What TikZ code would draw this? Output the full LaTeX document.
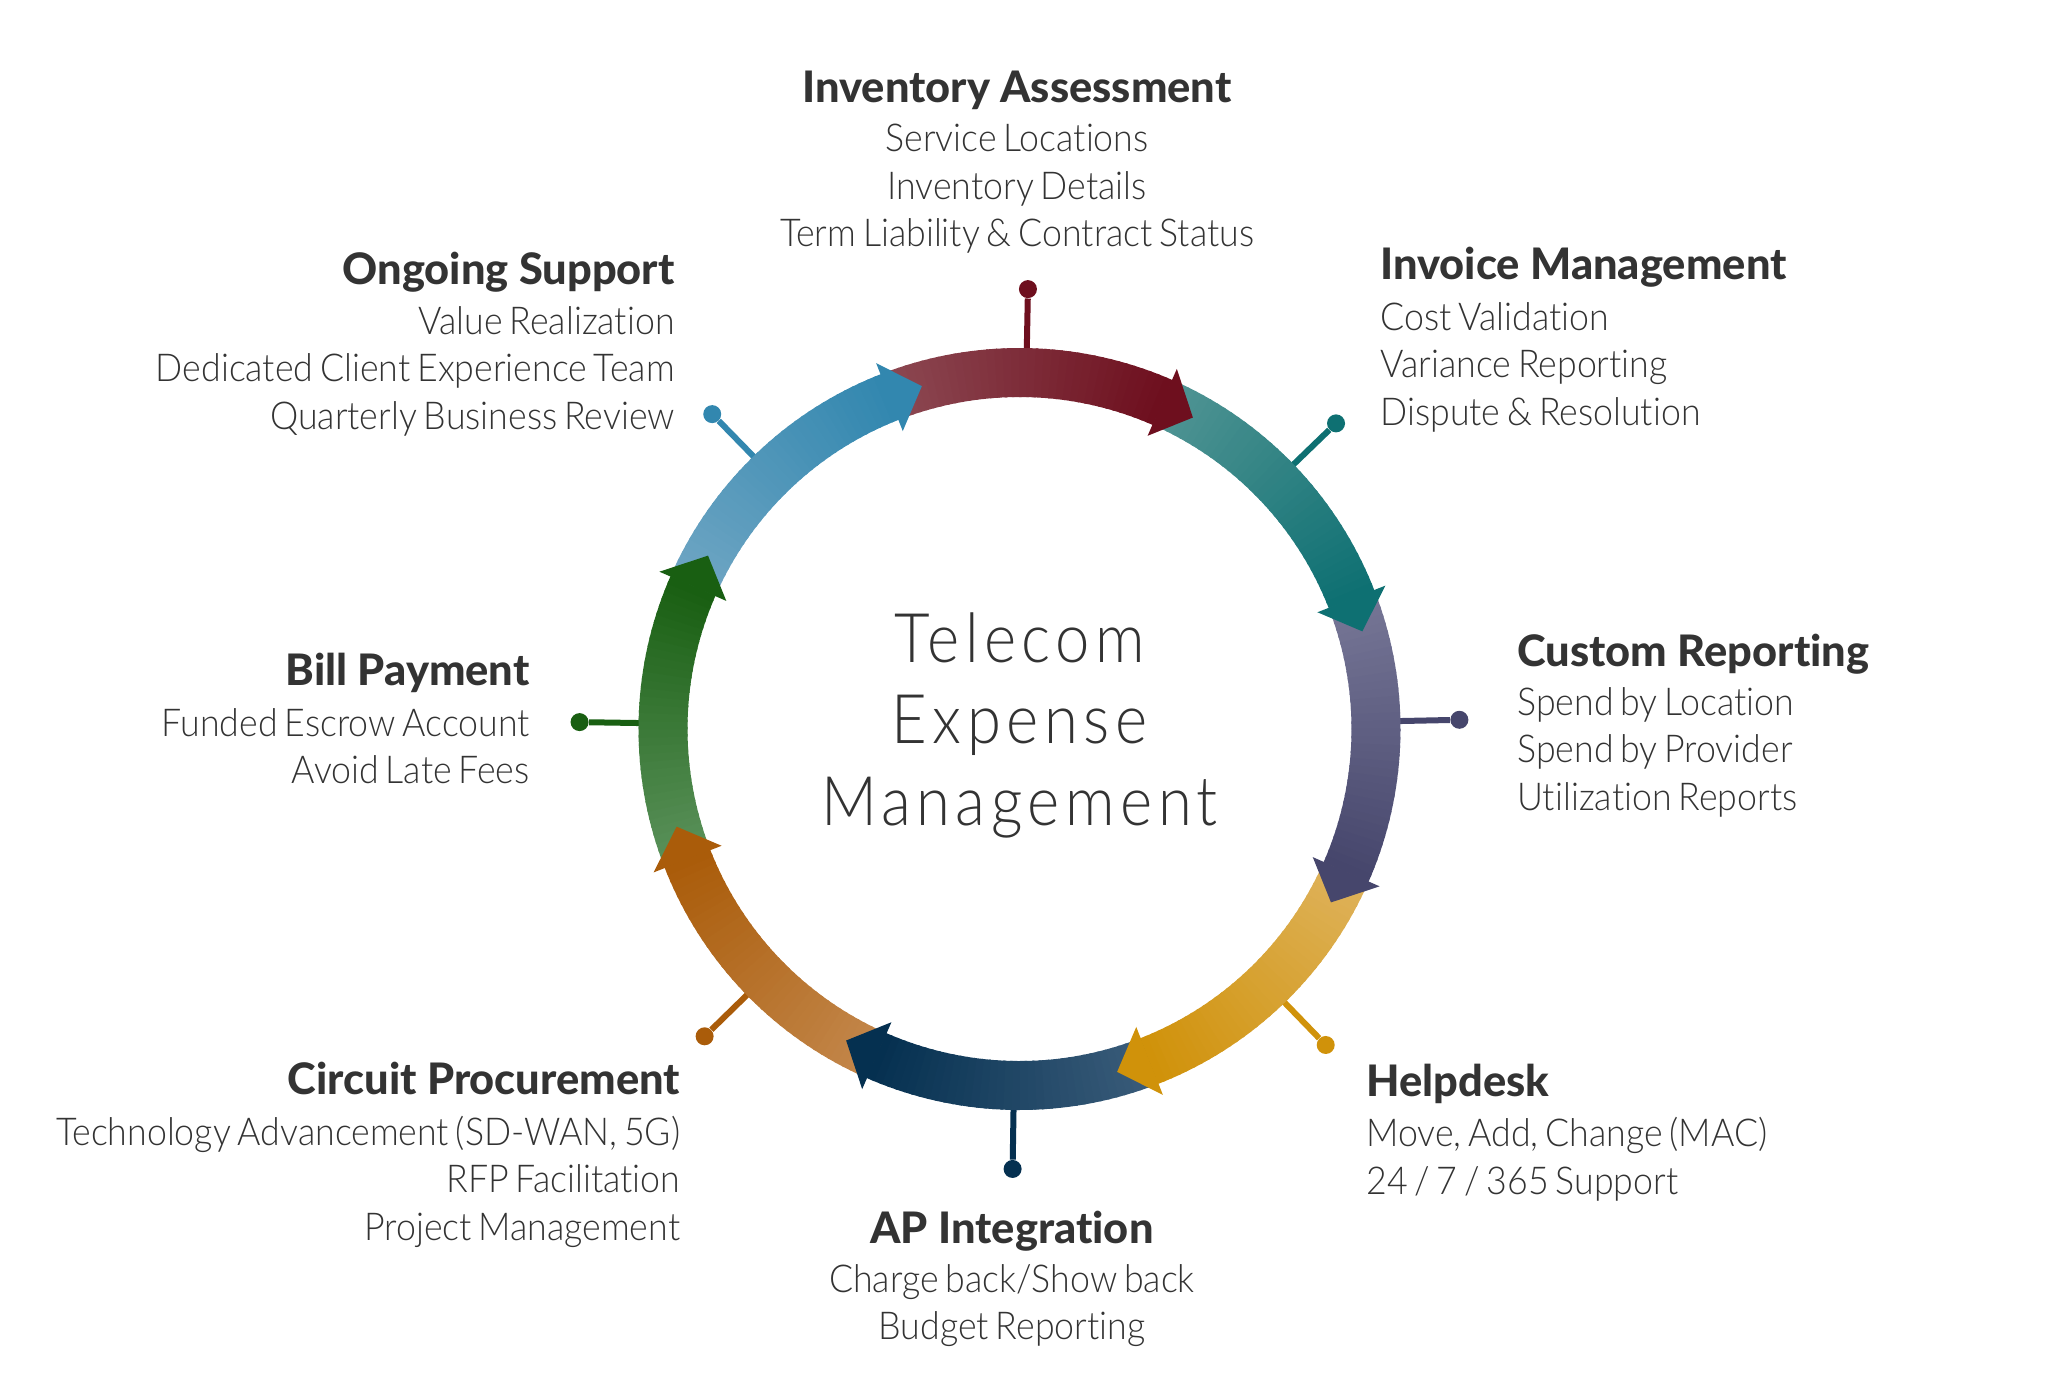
\documentclass[tikz,border=0pt]{standalone}
\usepackage{fontspec}
\setmainfont{Lato}[UprightFont=* Light, BoldFont=* Bold]
\newfontfamily\headfont{Lato}[UprightFont=* Heavy, Ligatures=NoCommon]
\newfontfamily\bodyfont{Lato}[UprightFont=* Light, FakeStretch=0.93, WordSpace=0.7, Ligatures=NoCommon]
\newfontfamily\titlefont{Lato}[UprightFont=* Light, FakeStretch=0.9, LetterSpace=8, Ligatures=NoCommon]
\usetikzlibrary{calc}
\definecolor{txt}{HTML}{333333}
\definecolor{redL}{HTML}{8C4852}\definecolor{redD}{HTML}{6E0F1E}
\definecolor{tealL}{HTML}{509494}\definecolor{tealD}{HTML}{0E7072}
\definecolor{slateL}{HTML}{767696}\definecolor{slateD}{HTML}{46466C}
\definecolor{goldL}{HTML}{DEB25A}\definecolor{goldD}{HTML}{D0920A}
\definecolor{navyL}{HTML}{3A5C7A}\definecolor{navyD}{HTML}{053050}
\definecolor{orangeL}{HTML}{C3874B}\definecolor{orangeD}{HTML}{AA5C0A}
\definecolor{greenL}{HTML}{5A915A}\definecolor{greenD}{HTML}{195F12}
\definecolor{blueL}{HTML}{6EA5C3}\definecolor{blueD}{HTML}{3287AF}
\newcommand\ringarrow[3]{%
  \foreach \i in {0,...,35}{%
    \pgfmathsetmacro\aa{#3+50.4-45*\i/36}%
    \pgfmathsetmacro\ab{#3+50.4-45*(\i+1)/36-0.4}%
    \pgfmathtruncatemacro\pp{round(100*\i/35)}%
    \fill[#2!\pp!#1] (\aa:381) arc[start angle=\aa, end angle=\ab, radius=381]
      -- (\ab:332) arc[start angle=\ab, end angle=\aa, radius=332] -- cycle;
  }%
}
\newcommand\ringhead[2]{%
  \fill[#1] ({#2+5.5}:393) -- (#2:356.5) -- ({#2+5.5}:320) -- cycle;%
}
\tikzset{
  hdtxt/.style={inner sep=0pt, text=txt, font=\headfont\fontsize{21.7pt}{24pt}\selectfont},
  bdtxt/.style={inner sep=0pt, text=txt, font=\bodyfont\fontsize{19.2pt}{23pt}\selectfont},
  cttxt/.style={inner sep=0pt, text=txt, font=\titlefont\fontsize{34.2pt}{40pt}\selectfont},
  pindot/.style={circle, inner sep=0pt, minimum size=9pt},
  pinline/.style={line width=3pt}
}
\begin{document}
\begin{tikzpicture}[x=0.5pt, y=0.5pt]
\useasboundingbox (0,0) rectangle (2048,-1399);
\begin{scope}[shift={(1019.5,-729)}]
  % pins
  \foreach \nm/\ang/\col in {pA/88.9/redD, pB/44.0/tealD, pC/1.2/slateD, pD/-45.9/goldD,
      pE/-90.9/navyD, pF/-135.7/orangeD, pG/179.1/greenD, pH/134.3/blueD}{
    \coordinate (\nm s) at (\ang:380);
    \node[pindot, fill=\col] (\nm) at (\ang:440) {};
    \draw[pinline, \col] (\nm s) -- (\nm);
  }
  % ring bodies
  \ringarrow{redL}{redD}{60.9}
  \ringarrow{tealL}{tealD}{15.9}
  \ringarrow{slateL}{slateD}{-29.1}
  \ringarrow{goldL}{goldD}{-74.1}
  \ringarrow{navyL}{navyD}{-119.1}
  \ringarrow{orangeL}{orangeD}{-164.1}
  \ringarrow{greenL}{greenD}{150.9}
  \ringarrow{blueL}{blueD}{105.9}
  % heads
  \ringhead{redD}{60.9}
  \ringhead{tealD}{15.9}
  \ringhead{slateD}{-29.1}
  \ringhead{goldD}{-74.1}
  \ringhead{navyD}{-119.1}
  \ringhead{orangeD}{-164.1}
  \ringhead{greenD}{150.9}
  \ringhead{blueD}{105.9}
\end{scope}
% centre title
\node[cttxt, anchor=base] (t1) at (1019.5,-662) {Telecom};
\node[cttxt, anchor=base] (t2) at (1019.5,-743) {Expense};
\node[cttxt, anchor=base] (t3) at (1019.5,-825) {Management};
% Inventory Assessment
\node[hdtxt, anchor=base] (ia0) at (1017,-102.7) {Inventory Assessment};
\node[bdtxt, anchor=base] (ia1) at (1017,-151.7) {Service Locations};
\node[bdtxt, anchor=base] (ia2) at (1017,-199.3) {Inventory Details};
\node[bdtxt, anchor=base] (ia3) at (1017,-246.7) {Term Liability \& Contract Status};
% Invoice Management
\node[hdtxt, anchor=base west] (im0) at (1380,-279) {Invoice Management};
\node[bdtxt, anchor=base west] (im1) at (1380,-330) {Cost Validation};
\node[bdtxt, anchor=base west] (im2) at (1380,-377) {Variance Reporting};
\node[bdtxt, anchor=base west] (im3) at (1380,-425) {Dispute \& Resolution};
% Custom Reporting
\node[hdtxt, anchor=base west] (cr0) at (1517,-666) {Custom Reporting};
\node[bdtxt, anchor=base west] (cr1) at (1517,-715) {Spend by Location};
\node[bdtxt, anchor=base west] (cr2) at (1517,-762) {Spend by Provider};
\node[bdtxt, anchor=base west] (cr3) at (1517,-810) {Utilization Reports};
% Helpdesk
\node[hdtxt, anchor=base west] (hd0) at (1366,-1096) {Helpdesk};
\node[bdtxt, anchor=base west] (hd1) at (1366,-1146) {Move, Add, Change (MAC)};
\node[bdtxt, anchor=base west] (hd2) at (1366,-1194) {24 / 7 / 365 Support};
% AP Integration
\node[hdtxt, anchor=base] (ap0) at (1012,-1243) {AP Integration};
\node[bdtxt, anchor=base] (ap1) at (1012,-1292) {Charge back/Show back};
\node[bdtxt, anchor=base] (ap2) at (1012,-1339) {Budget Reporting};
% Circuit Procurement
\node[hdtxt, anchor=base east] (cp0) at (680.5,-1094) {Circuit Procurement};
\node[bdtxt, anchor=base east] (cp1) at (680.5,-1145) {Technology Advancement (SD-WAN, 5G)};
\node[bdtxt, anchor=base east] (cp2) at (680.5,-1192) {RFP Facilitation};
\node[bdtxt, anchor=base east] (cp3) at (680.5,-1240) {Project Management};
% Bill Payment
\node[hdtxt, anchor=base east] (bp0) at (530,-685) {Bill Payment};
\node[bdtxt, anchor=base east] (bp1) at (530,-736) {Funded Escrow Account};
\node[bdtxt, anchor=base east] (bp2) at (530,-783) {Avoid Late Fees};
% Ongoing Support
\node[hdtxt, anchor=base east] (os0) at (675,-284) {Ongoing Support};
\node[bdtxt, anchor=base east] (os1) at (675,-334) {Value Realization};
\node[bdtxt, anchor=base east] (os2) at (675,-381) {Dedicated Client Experience Team};
\node[bdtxt, anchor=base east] (os3) at (675,-429) {Quarterly Business Review};
\end{tikzpicture}
\end{document}
